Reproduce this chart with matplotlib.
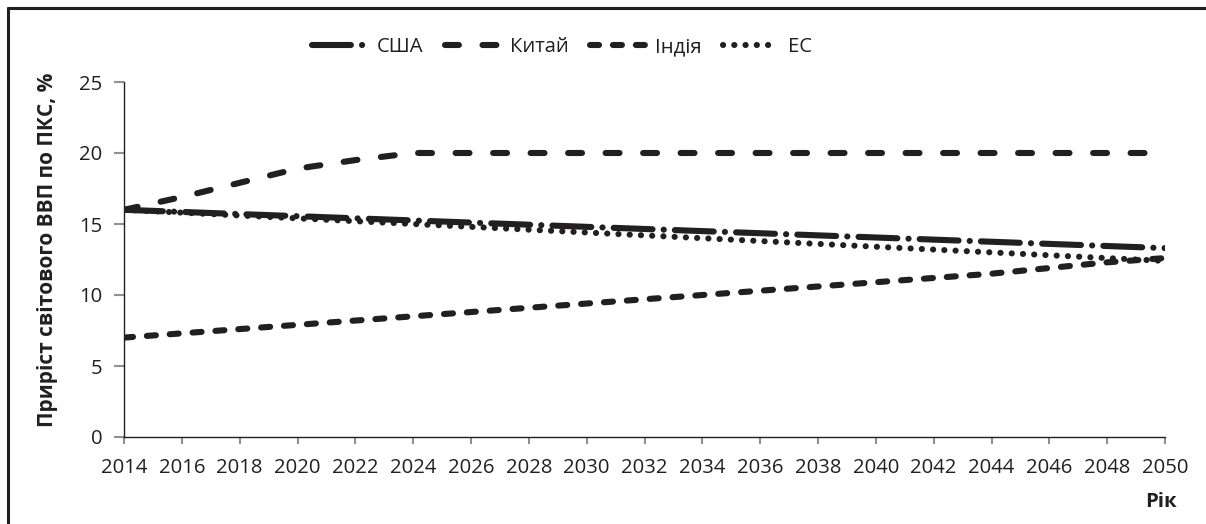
import matplotlib
matplotlib.use("Agg")
import matplotlib.pyplot as plt
from matplotlib.lines import Line2D

plt.rcParams['font.family'] = ['Open Sans', 'DejaVu Sans']
plt.rcParams['lines.scale_dashes'] = False

years = [2014, 2016, 2018, 2020, 2022, 2024, 2026, 2028, 2030, 2032,
         2034, 2036, 2038, 2040, 2042, 2044, 2046, 2048, 2050]
usa = [16.0, 15.85, 15.7, 15.55, 15.4, 15.25, 15.1, 14.95, 14.8, 14.65,
       14.5, 14.35, 14.2, 14.05, 13.9, 13.75, 13.6, 13.45, 13.3]
china = [16.0, 16.9, 17.9, 18.9, 19.5, 20.0, 20.0, 20.0, 20.0, 20.0,
         20.0, 20.0, 20.0, 20.0, 20.0, 20.0, 20.0, 20.0, 20.0]
india = [7.0, 7.3, 7.6, 7.9, 8.2, 8.5, 8.8, 9.1, 9.4, 9.7,
         10.0, 10.3, 10.6, 10.9, 11.2, 11.5, 11.9, 12.3, 12.6]
eu = [16.0, 15.8, 15.6, 15.4, 15.2, 15.0, 14.8, 14.6, 14.4, 14.2,
      14.0, 13.8, 13.6, 13.4, 13.2, 13.0, 12.8, 12.6, 12.4]
series_names = ['США', 'Китай', 'Індія', 'ЕС']
yticks = [0, 5, 10, 15, 20, 25]

ink = '#231f20'
lw = 4.4
fig = plt.figure(figsize=(12.06, 5.24), dpi=100)
ax = fig.add_axes([124/1206, 1-437/524, (1165-124)/1206, (437-82)/524])

styles = [
    (0, (28, 8, 0.1, 8)),
    (0, (10, 17)),
    (0, (6.5, 10)),
    (0, (0.1, 8)),
]
handles = []
for data, name, ls in zip([usa, china, india, eu], series_names, styles):
    ln, = ax.plot(years, data, color=ink, lw=lw, linestyle=ls,
                  solid_capstyle='round', dash_capstyle='round', label=name)
    handles.append(ln)

ax.set_xlim(2014, 2050)
ax.set_ylim(0, 25)
ax.set_xticks(years)
ax.set_xticklabels([str(y) for y in years])
ax.set_yticks(yticks)
for s in ['top', 'right']:
    ax.spines[s].set_visible(False)
for s in ['left', 'bottom']:
    ax.spines[s].set_color(ink)
    ax.spines[s].set_linewidth(1.0)
ax.tick_params(axis='x', direction='out', length=5, width=1.5, color='#909090',
               labelsize=14.6, labelcolor=ink, pad=10)
ax.tick_params(axis='y', direction='out', length=7, width=1.5, color='#909090',
               labelsize=14.6, labelcolor=ink, pad=8.5)

fig.text(48/1206, 1-250/524, 'Приріст світового ВВП по ПКС, %', fontsize=15,
         fontweight='bold', color=ink, rotation=90, ha='center', va='center')
fig.text(1177/1206, 1-502/524, 'Рік', fontsize=14.6, fontweight='bold', color=ink,
         ha='right', va='center')

leg = fig.legend(handles=handles, loc='center', bbox_to_anchor=(562/1206, 1-47/524),
                 ncol=4, frameon=False, fontsize=14.6, handlelength=2.7,
                 columnspacing=1.05, handletextpad=0.5, borderaxespad=0)
for t in leg.get_texts():
    t.set_color(ink)

fig.add_artist(Line2D([7.5/1206, 7.5/1206], [0, 1-7.5/524], transform=fig.transFigure,
                      color=ink, lw=2.2, solid_capstyle='round'))
fig.add_artist(Line2D([7.5/1206, 1], [1-7.5/524, 1-7.5/524], transform=fig.transFigure,
                      color=ink, lw=2.2, solid_capstyle='round'))

fig.savefig('out.png', dpi=100)
